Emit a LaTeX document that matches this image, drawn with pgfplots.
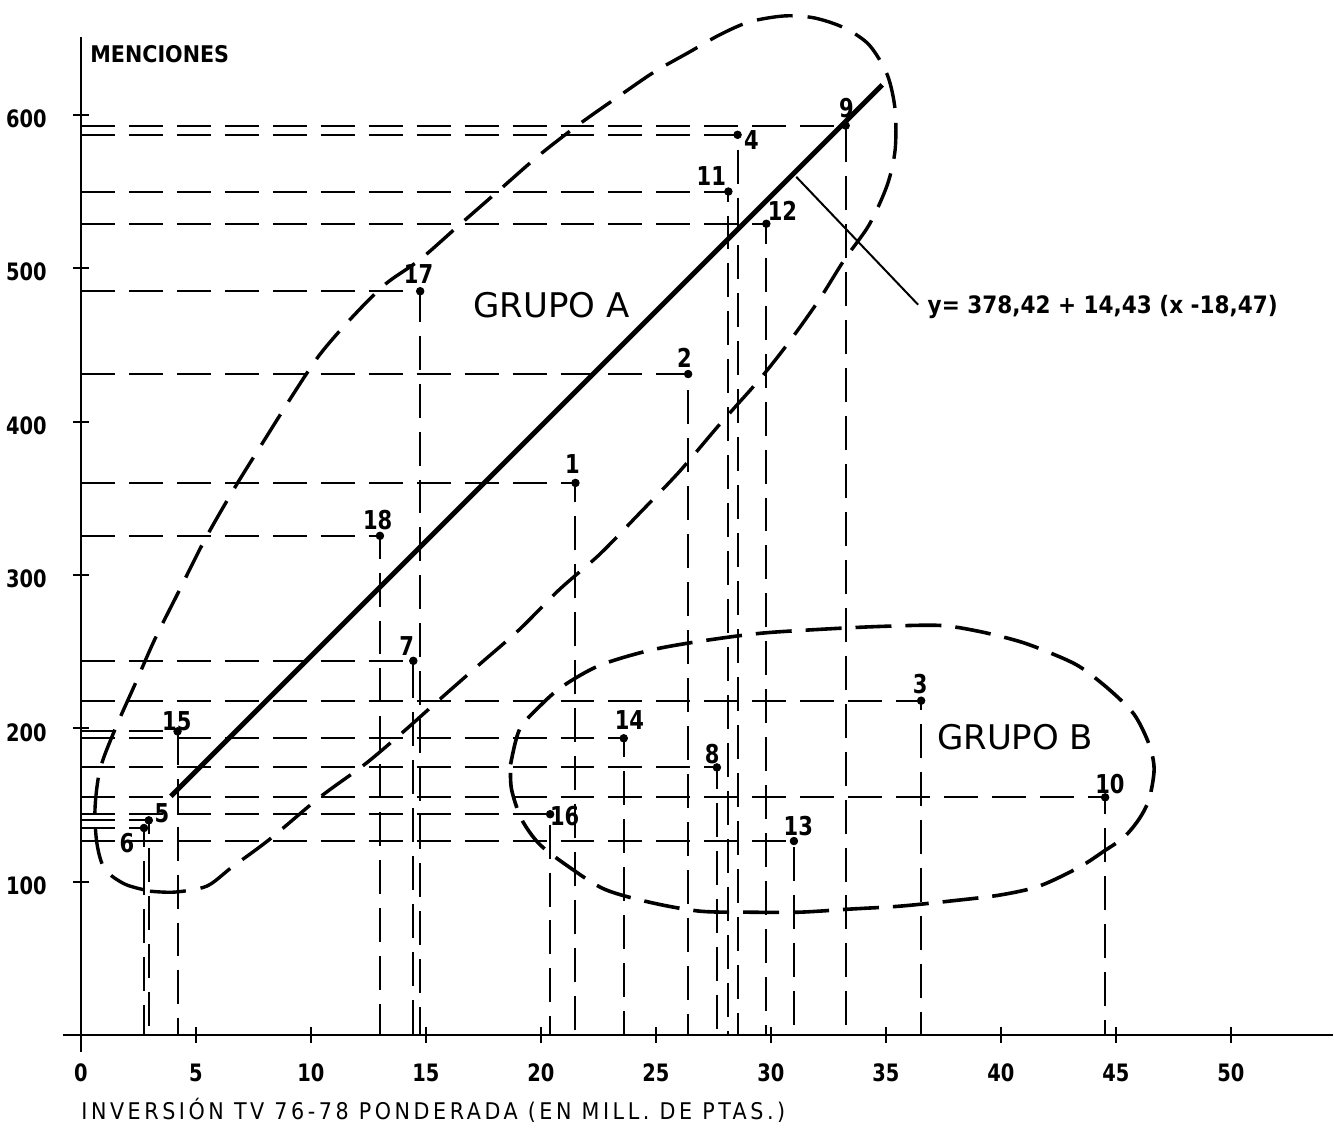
\documentclass[border=0pt]{standalone}
\usepackage{pgfplots}
\pgfplotsset{compat=1.18}
\usepackage{fontspec}
\setmainfont{DejaVu Sans}
\IfFontExistsTF{DejaVu Sans Condensed}{\newfontfamily\cond{DejaVu Sans Condensed}\newfontfamily\condn{DejaVu Sans Condensed}[FakeStretch=0.9]}{\newfontfamily\cond{DejaVu Sans}\newfontfamily\condn{DejaVu Sans}[FakeStretch=0.8]}
\newcommand{\refpt}[2]{\addplot[refline] coordinates {(0,#2) (#1,#2) (#1,0)};}
\newcommand{\plab}[3]{\node[font=\condn\bfseries\fontsize{13}{13}\selectfont, inner sep=0pt] at (axis cs:#1,#2) {#3};}
\begin{document}
\begin{tikzpicture}
\begin{axis}[
  x=11.51pt, y=0.7675pt,
  xmin=-0.78, xmax=54.43, ymin=-11, ymax=651,
  axis lines=middle,
  axis line style={-, line width=1.2pt, black},
  xtick={0,5,...,50}, ytick={100,200,...,600},
  hide obscured x ticks=false, hide obscured y ticks=false,
  tick align=center, major tick length=8pt,
  every tick/.style={black, line width=1pt},
  tick label style={font=\condn\bfseries\fontsize{12}{12}\selectfont, inner sep=0pt},
  xticklabel style={anchor=center, yshift=-15pt},
  yticklabel style={anchor=east, xshift=-13pt, yshift=-2pt},
  /pgf/number format/assume math mode=true,
  clip=false,
  refline/.style={black, line width=1pt, dash pattern=on 17pt off 7pt},
]
\path (axis cs:-3.52,-61.24) rectangle (axis cs:54.43,674.9);

% reference lines from each point to the axes
\refpt{21.5}{360}
\refpt{26.4}{431}
\refpt{36.53}{218}
\refpt{28.55}{587}
\refpt{2.95}{140}
\refpt{2.74}{135}
\refpt{14.45}{244}
\refpt{27.65}{174.5}
\refpt{33.25}{593}
\refpt{44.53}{155}
\refpt{28.15}{550}
\refpt{29.8}{529}
\refpt{31.0}{126.5}
\refpt{23.6}{193.5}
\refpt{4.2}{198}
\refpt{20.4}{144}
\refpt{14.75}{485}
\refpt{13.0}{325.5}

% points
\addplot[only marks, mark=*, mark size=1.9pt, black] table {
x y
21.5 360
26.4 431
36.53 218
28.55 587
2.95 140
2.74 135
14.45 244
27.65 174.5
33.25 593
44.53 155
28.15 550
29.8 529
31.0 126.5
23.6 193.5
4.2 198
20.4 144
14.75 485
13.0 325.5
};

% regression line
\addplot[black, line width=2.5pt] coordinates {(3.91,155.7) (34.84,619.5)};
% leader to equation
\addplot[black, line width=1pt] coordinates {(31.10,559.6) (36.40,476.2)};

% Grupo A ellipse
\addplot[black, line width=1.7pt, dash pattern=on 18pt off 7.5pt, smooth, tension=0.5] coordinates {
(3.00,93.8) (4.08,93.2) (5.47,97.1) (6.56,109.4) (8.21,127.7) (10.38,155.0) (12.34,176.5)
(13.99,197.4) (15.60,218.9) (17.33,241.7) (19.07,264.5) (20.81,290.6) (22.55,313.4)
(24.28,340.1) (26.02,367.4) (27.76,398.0) (29.50,427.4) (30.80,452.1) (32.10,479.5)
(33.19,505.5) (34.27,528.3) (35.06,554.4) (35.40,577.2) (35.40,603.3) (35.06,626.1)
(34.27,645.6) (33.19,656.7) (31.89,663.2) (30.58,664.5) (29.06,660.6) (27.76,652.1)
(26.46,641.0) (24.93,628.0) (23.41,612.4) (21.68,594.1) (19.94,573.9) (18.20,551.1)
(16.46,528.3) (14.73,505.5) (13.21,489.3) (11.69,466.4) (10.38,443.6) (9.30,419.5)
(7.99,388.3) (6.69,357.0) (5.39,323.1) (4.30,290.6) (3.21,258.0) (2.35,228.7)
(1.48,199.3) (0.83,173.3) (0.61,147.2) (0.70,124.4) (1.04,108.1) (1.91,98.4) (3.00,93.8)
};

% Grupo B ellipse
\addplot[black, line width=1.8pt, dash pattern=on 18pt off 7pt, smooth, tension=0.5] coordinates {
(18.68,176.5) (19.07,199.3) (19.94,214.3) (20.94,227.4) (22.55,241.0) (24.72,250.8)
(26.89,256.7) (29.50,261.9) (32.10,264.5) (34.71,266.4) (37.32,267.1) (39.05,263.2)
(40.79,256.7) (42.09,249.5) (43.40,240.4) (44.70,225.4) (45.79,209.1) (46.44,189.6)
(46.66,173.3) (46.44,153.7) (46.00,140.7) (45.35,129.0) (44.48,119.9) (43.40,109.4)
(41.66,97.1) (39.92,91.2) (37.75,87.3) (35.58,84.0) (33.41,82.1) (31.23,80.1)
(29.06,80.1) (26.89,80.8) (24.72,86.6) (22.76,95.1) (21.24,109.4) (19.94,124.4)
(19.16,140.7) (18.72,160.3) (18.68,176.5)
};

% point labels
\plab{21.37}{372.6}{1}
\plab{26.24}{441.7}{2}
\plab{36.49}{228.7}{3}
\plab{29.15}{583.7}{4}
\plab{3.52}{144.6}{5}
\plab{2.0}{125.1}{6}
\plab{14.16}{253.4}{7}
\plab{27.45}{183.1}{8}
\plab{33.28}{604.6}{9}
\plab{44.74}{163.5}{10}
\plab{27.41}{560.3}{11}
\plab{30.5}{537.5}{12}
\plab{31.19}{136.2}{13}
\plab{23.85}{205.2}{14}
\plab{4.17}{204.6}{15}
\plab{21.03}{142.7}{16}
\plab{14.68}{496.4}{17}
\plab{12.9}{335.5}{18}

% texts
\node[font=\fontsize{17}{17}\selectfont, inner sep=0pt] at (axis cs:20.46,476.2) {GRUPO A};
\node[font=\fontsize{17}{17}\selectfont, inner sep=0pt] at (axis cs:40.62,194.1) {GRUPO B};
\node[font=\cond\bfseries\fontsize{11.5}{11.5}\selectfont, anchor=west, inner sep=0pt] at (axis cs:0.39,639.7) {MENCIONES};
\node[font=\cond\fontsize{11.5}{11.5}\selectfont\addfontfeature{LetterSpace=15.5}, anchor=west, inner sep=0pt] at (axis cs:0.0,-49) {INVERSIÓN TV 76-78 PONDERADA (EN MILL. DE PTAS.)};
\node[font=\cond\bfseries\fontsize{12}{12}\selectfont, anchor=west, inner sep=0pt] at (axis cs:36.8,474.9) {y= 378,42 + 14,43 (x -18,47)};
\end{axis}
\end{tikzpicture}
\end{document}
